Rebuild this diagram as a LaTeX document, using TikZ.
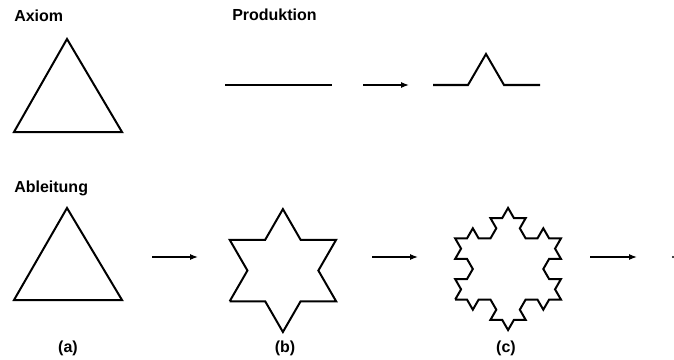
\documentclass[tikz,border=0pt]{standalone}
\usepackage{fontspec}
\setmainfont{Liberation Sans}
\usetikzlibrary{arrows.meta,lindenmayersystems}

\pgfdeclarelindenmayersystem{Koch curve}{\rule{F -> F+F--F+F}}

\tikzset{
  koch line/.style={line width=1.5pt, line join=miter},
  gen arrow/.style={line width=0.9pt, -{Latex[length=6pt,width=4.5pt]}},
  head text/.style={font=\fontsize{12}{14}\selectfont\bfseries, anchor=base west, inner sep=0pt},
  sub text/.style={font=\fontsize{12}{14}\selectfont\bfseries, inner sep=0pt},
}

\begin{document}
\begin{tikzpicture}[x=0.75pt,y=0.75pt,yscale=-1,xscale=1]
\useasboundingbox (0,0) rectangle (674,360);

% Text Node
\node[head text] (axiom) at (14,22) {Axiom};
% Text Node
\node[head text] (produktion) at (232,21) {Produktion};
% Text Node
\node[head text] (ableitung) at (14,192) {Ableitung};

%Shape: Triangle [axiom]
\draw[koch line] (67,39) -- (14,132) -- (122,132) -- cycle;

%Straight Lines [production rule]
\draw[koch line] (225,85) -- (332,85);
\coordinate (r1) at (363,85);
\coordinate (r2) at (409,85);
\draw[gen arrow] (r1) -- (r2);
\draw[koch line] (433,85) -- (468,85) -- (486,54) -- (504,85) -- (540,85);

%Shape: Triangle (a)
\draw[koch line] (67,208) -- (14,300) -- (122,300) -- cycle;
%Shape: Star (b)
\begin{scope}[shift={(229.7,301.25)}]
\draw[koch line, l-system={Koch curve, axiom=F--F--F, order=1, step=26.6pt, angle=60}]
  (0,0) lindenmayer system;
\end{scope}
%Shape: Snowflake (c)
\begin{scope}[shift={(455.2,299.5)}]
\draw[koch line, l-system={Koch curve, axiom=F--F--F, order=2, step=8.81pt, angle=60}]
  (0,0) lindenmayer system;
\end{scope}

%Straight Lines [derivation steps]
\coordinate (a1) at (152,257);
\coordinate (a2) at (198,257);
\coordinate (b1) at (372,257);
\coordinate (b2) at (418,257);
\coordinate (c1) at (590,257);
\coordinate (c2) at (637,257);
\draw[gen arrow] (a1) -- (a2);
\draw[gen arrow] (b1) -- (b2);
\draw[gen arrow] (c1) -- (c2);
\fill (673,257) circle [radius=1.1];

% Text Node
\node[sub text] (la) at (68,348) {(a)};
% Text Node
\node[sub text] (lb) at (285,348) {(b)};
% Text Node
\node[sub text] (lc) at (506,348) {(c)};

\end{tikzpicture}
\end{document}
